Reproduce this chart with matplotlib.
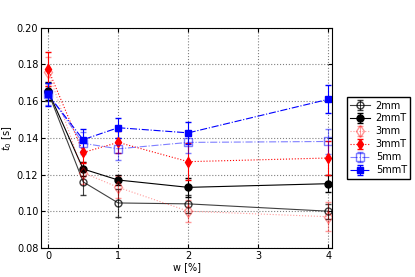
import numpy as np
import matplotlib
matplotlib.use("Agg")
import matplotlib.pyplot as plt

# data
w = [0, 0.5, 1, 2, 4]

t_2mm = [0.165, 0.116, 0.1045, 0.104, 0.100]
e_2mm = [0.005, 0.007, 0.0075, 0.005, 0.004]
t_2mmT = [0.1655, 0.123, 0.117, 0.113, 0.115]
e_2mmT = [0.005, 0.004, 0.0025, 0.005, 0.0045]
t_3mm = [0.176, 0.121, 0.113, 0.100, 0.097]
e_3mm = [0.008, 0.006, 0.006, 0.006, 0.008]
t_3mmT = [0.1775, 0.132, 0.1375, 0.127, 0.129]
e_3mmT = [0.009, 0.006, 0.006, 0.010, 0.009]
t_5mm = [0.164, 0.137, 0.134, 0.1375, 0.138]
e_5mm = [0.006, 0.006, 0.006, 0.006, 0.007]
t_5mmT = [0.1636, 0.139, 0.1455, 0.1427, 0.161]
e_5mmT = [0.006, 0.006, 0.0055, 0.006, 0.0077]

labels = ["2mm", "2mmT", "3mm", "3mmT", "5mm", "5mmT"]

fig = plt.figure(figsize=(4.15, 2.77), dpi=100)
ax = fig.add_axes([0.099, 0.105, 0.701, 0.795])

ax.errorbar(w, t_2mm, yerr=e_2mm, color='k', ls='-', marker='o', mfc='none',
            mec='k', ms=5, lw=0.8, capsize=2, alpha=0.75, label=labels[0])
ax.errorbar(w, t_2mmT, yerr=e_2mmT, color='k', ls='-', marker='o', ms=5,
            lw=0.8, capsize=2, label=labels[1])
ax.errorbar(w, t_3mm, yerr=e_3mm, color='r', ls=':', marker='d', mfc='none',
            mec='r', ms=6, lw=0.8, capsize=2, alpha=0.4, label=labels[2])
ax.errorbar(w, t_3mmT, yerr=e_3mmT, color='r', ls=':', marker='d', ms=5,
            lw=0.8, capsize=2, label=labels[3])
ax.errorbar(w, t_5mm, yerr=e_5mm, color='b', ls='-.', marker='s', mfc='none',
            mec='b', ms=6, lw=0.8, capsize=2, alpha=0.5, label=labels[4])
ax.errorbar(w, t_5mmT, yerr=e_5mmT, color='b', ls='-.', marker='s', ms=5,
            lw=0.8, capsize=2, label=labels[5])

ax.set_xlim(-0.1, 4.05)
ax.set_ylim(0.08, 0.20)
ax.set_xticks([0, 1, 2, 3, 4])
ax.set_yticks(np.arange(0.08, 0.201, 0.02))
ax.yaxis.set_major_formatter(matplotlib.ticker.FormatStrFormatter('%.2f'))
ax.tick_params(direction='in', top=True, right=True, labelsize=7, length=3, pad=2)
ax.grid(True, ls=':', color='gray', lw=0.8)
ax.set_xlabel("w [%]", fontsize=7, labelpad=1)
ax.set_ylabel("$t_0$ [s]", fontsize=7, labelpad=2)

ax.legend(loc='center left', bbox_to_anchor=(1.035, 0.5), fontsize=7,
          fancybox=False, edgecolor='k', framealpha=1, borderpad=0.35,
          handlelength=2, handletextpad=0.6, labelspacing=0.3, numpoints=1)

fig.savefig("out.png", dpi=100)
